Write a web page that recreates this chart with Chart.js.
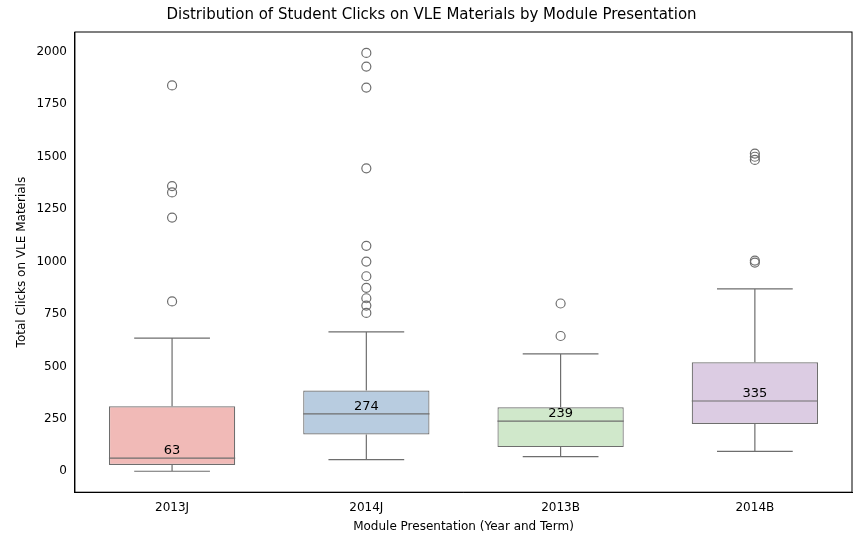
<!DOCTYPE html>
<html>
<head>
<script src="https://cdn.jsdelivr.net/npm/chart.js@4"></script>
<style>
  body { margin: 0; background: #fff; }
  #wrap { width: 858px; height: 540px; }
</style>
</head>
<body>
<div id="wrap"><canvas id="myChart"></canvas></div>
<script>
const categories = ['2013J', '2014J', '2013B', '2014B']
const whiskerLow = [0, 55, 70, 95]
const q1 = [30, 175, 115, 225]
const medians = [63, 274, 239, 335]
const q3 = [310, 385, 305, 520]
const whiskerHigh = [635, 665, 560, 870]
const outliers = [
  [810, 1210, 1330, 1360, 1840],
  [755, 790, 825, 875, 930, 1000, 1075, 1445, 1830, 1930, 1995],
  [645, 800],
  [995, 1005, 1485, 1500, 1515]
]
const boxColors = ['#f1bab7', '#b8cce0', '#d0e8cb', '#dccce3']
const edge = '#6e6e6e'

const boxPlugin = {
  id: 'boxPlugin',
  afterDatasetsDraw (chart) {
    const c = chart.ctx
    const x = chart.scales.x
    const y = chart.scales.y
    const step = x.getPixelForValue(1) - x.getPixelForValue(0)
    const half = step * 0.65 / 2
    const cap = half * 0.6
    c.save()
    c.strokeStyle = edge
    c.lineWidth = 1.2
    categories.forEach((cat, i) => {
      const cx = x.getPixelForValue(i)
      c.beginPath()
      c.moveTo(cx, y.getPixelForValue(q1[i])); c.lineTo(cx, y.getPixelForValue(whiskerLow[i]))
      c.moveTo(cx, y.getPixelForValue(q3[i])); c.lineTo(cx, y.getPixelForValue(whiskerHigh[i]))
      c.moveTo(cx - cap, y.getPixelForValue(whiskerLow[i])); c.lineTo(cx + cap, y.getPixelForValue(whiskerLow[i]))
      c.moveTo(cx - cap, y.getPixelForValue(whiskerHigh[i])); c.lineTo(cx + cap, y.getPixelForValue(whiskerHigh[i]))
      c.moveTo(cx - half, y.getPixelForValue(medians[i])); c.lineTo(cx + half, y.getPixelForValue(medians[i]))
      c.stroke()
      c.fillStyle = '#000'
      c.font = '13px "DejaVu Sans"'
      c.textAlign = 'center'
      c.textBaseline = 'bottom'
      c.fillText(String(medians[i]), cx, y.getPixelForValue(medians[i]) - 1)
    })
    const a = chart.chartArea
    c.strokeStyle = '#000'
    c.lineWidth = 1
    c.strokeRect(a.left, a.top, a.right - a.left, a.bottom - a.top)
    c.restore()
  }
}

const outlierPoints = []
outliers.forEach((arr, i) => arr.forEach(v => outlierPoints.push({ x: categories[i], y: v })))

new Chart(document.getElementById('myChart'), {
  data: {
    labels: categories,
    datasets: [{
      type: 'bar',
      data: categories.map((c, i) => [q1[i], q3[i]]),
      backgroundColor: boxColors,
      borderColor: edge,
      borderWidth: 1.2,
      borderSkipped: false,
      categoryPercentage: 1,
      barPercentage: 0.65
    }, {
      type: 'line',
      data: outlierPoints,
      showLine: false,
      pointRadius: 4.5,
      pointBackgroundColor: 'rgba(0,0,0,0)',
      pointBorderColor: edge,
      pointBorderWidth: 1.2
    }]
  },
  options: {
    responsive: true,
    maintainAspectRatio: false,
    animation: false,
    layout: { padding: { left: 11, right: 6, top: 0, bottom: 6 } },
    plugins: {
      legend: { display: false },
      tooltip: { enabled: false },
      title: {
        display: true,
        text: 'Distribution of Student Clicks on VLE Materials by Module Presentation',
        color: '#000',
        font: { family: 'DejaVu Sans', size: 15, weight: 'normal' },
        padding: { top: 6, bottom: 8 }
      }
    },
    scales: {
      x: {
        grid: { display: false, drawTicks: true, tickLength: 5, tickColor: '#000' },
        border: { color: '#000' },
        ticks: { color: '#000', font: { family: 'DejaVu Sans', size: 12 } },
        title: { display: true, text: 'Module Presentation (Year and Term)', color: '#000', font: { family: 'DejaVu Sans', size: 12 }, padding: { top: 2, bottom: 0 } }
      },
      y: {
        min: -100,
        max: 2095,
        afterBuildTicks (axis) {
          axis.ticks = [0, 250, 500, 750, 1000, 1250, 1500, 1750, 2000].map(v => ({ value: v }))
        },
        grid: { display: false, drawTicks: true, tickLength: 5, tickColor: '#000' },
        border: { color: '#000' },
        ticks: { color: '#000', font: { family: 'DejaVu Sans', size: 12 }, callback: v => v },
        title: { display: true, text: 'Total Clicks on VLE Materials', color: '#000', font: { family: 'DejaVu Sans', size: 12 } }
      }
    }
  },
  plugins: [boxPlugin]
})
</script>
</body>
</html>
